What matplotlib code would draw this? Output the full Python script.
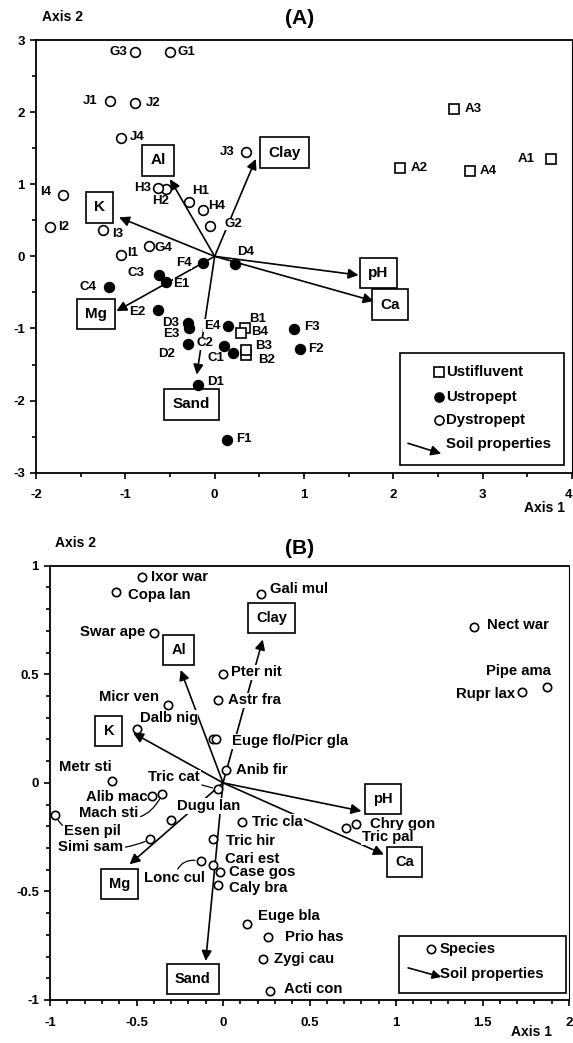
import numpy as np
import matplotlib
matplotlib.use("Agg")
import matplotlib.pyplot as plt
from matplotlib.ticker import MultipleLocator, FuncFormatter
from matplotlib.patches import Rectangle

plt.rcParams['font.family'] = ['Liberation Sans', 'DejaVu Sans']
plt.rcParams['font.weight'] = 'bold'

# ---- panel A : soil samples ----
ustifluvent_ids = ["A1", "A2", "A3", "A4", "B1", "B2", "B3", "B4"]
ustifluvent_ax1 = [3.77, 2.07, 2.68, 2.86, 0.34, 0.35, 0.35, 0.30]
ustifluvent_ax2 = [1.35, 1.22, 2.04, 1.18, -1.00, -1.37, -1.30, -1.06]

ustropept_ids = ["C1", "C2", "C3", "C4", "D1", "D2", "D3", "D4",
                 "E1", "E2", "E3", "E4", "F1", "F2", "F3", "F4"]
ustropept_ax1 = [0.21, 0.10, -0.62, -1.18, -0.19, -0.30, -0.30, 0.23,
                 -0.54, -0.63, -0.29, 0.15, 0.14, 0.96, 0.89, -0.13]
ustropept_ax2 = [-1.34, -1.25, -0.26, -0.42, -1.78, -1.21, -0.92, -0.10,
                 -0.36, -0.74, -1.00, -0.96, -2.55, -1.28, -1.01, -0.09]

dystropept_ids = ["G1", "G2", "G3", "G4", "H1", "H2", "H3", "H4",
                  "I1", "I2", "I3", "I4", "J1", "J2", "J3", "J4"]
dystropept_ax1 = [-0.50, -0.05, -0.89, -0.73, -0.29, -0.54, -0.63, -0.13,
                  -1.05, -1.84, -1.25, -1.70, -1.17, -0.89, 0.35, -1.05]
dystropept_ax2 = [2.83, 0.42, 2.83, 0.15, 0.76, 0.93, 0.95, 0.64,
                  0.02, 0.41, 0.37, 0.85, 2.15, 2.12, 1.45, 1.64]

soil_props = ["Al", "Clay", "K", "Mg", "Sand", "pH", "Ca"]
soilA_ax1 = [-0.50, 0.46, -1.07, -1.10, -0.20, 1.61, 1.78]
soilA_ax2 = [1.07, 1.35, 0.54, -0.76, -1.64, -0.26, -0.62]

# ---- panel B : species ----
species = ["Ixor war", "Copa lan", "Swar ape", "Gali mul", "Pter nit", "Astr fra",
           "Micr ven", "Dalb nig", "Euge flo", "Picr gla", "Anib fir", "Metr sti",
           "Alib mac", "Mach sti", "Esen pil", "Tric cat", "Dugu lan", "Simi sam",
           "Tric cla", "Tric hir", "Lonc cul", "Cari est", "Case gos", "Caly bra",
           "Euge bla", "Prio has", "Zygi cau", "Acti con", "Chry gon", "Tric pal",
           "Nect war", "Rupr lax", "Pipe ama"]
species_ax1 = [-0.47, -0.62, -0.40, 0.22, 0.00, -0.03,
               -0.32, -0.50, -0.06, -0.04, 0.02, -0.64,
               -0.41, -0.35, -0.97, -0.03, -0.30, -0.42,
               0.11, -0.06, -0.13, -0.06, -0.02, -0.03,
               0.14, 0.26, 0.23, 0.27, 0.77, 0.71,
               1.45, 1.73, 1.87]
species_ax2 = [0.95, 0.88, 0.69, 0.87, 0.50, 0.38,
               0.36, 0.25, 0.20, 0.20, 0.06, 0.01,
               -0.06, -0.05, -0.15, -0.03, -0.17, -0.26,
               -0.18, -0.26, -0.36, -0.38, -0.41, -0.47,
               -0.65, -0.71, -0.81, -0.96, -0.19, -0.21,
               0.72, 0.42, 0.44]

soilB_ax1 = [-0.245, 0.23, -0.52, -0.54, -0.10, 0.80, 0.93]
soilB_ax2 = [0.52, 0.66, 0.23, -0.375, -0.82, -0.13, -0.33]

# label placement (pixels offset, alignment)
offA = {
    "A1": (-17, 0, 'right'), "A2": (11, 0, 'left'), "A3": (11, 0, 'left'), "A4": (10, 0, 'left'),
    "B1": (4, 9, 'left'), "B2": (12, -5, 'left'), "B3": (9, 4, 'left'), "B4": (10, 1, 'left'),
    "C1": (-9, -5, 'right'), "C2": (-10, 3, 'right'), "C3": (-15, 2, 'right'), "C4": (-13, 0, 'right'),
    "D1": (9, 3, 'left'), "D2": (-13, -10, 'right'), "D3": (-9, 0, 'right'), "D4": (2, 12, 'left'),
    "E1": (7, -2, 'left'), "E2": (-13, -2, 'right'), "E3": (-9, -6, 'right'), "E4": (-8, 0, 'right'),
    "F1": (9, 1, 'left'), "F2": (8, 0, 'left'), "F3": (10, 2, 'left'), "F4": (-11, 0, 'right'),
    "G1": (8, 0, 'left'), "G2": (14, 2, 'left'), "G3": (-8, 0, 'right'), "G4": (5, -2, 'left'),
    "H1": (3, 11, 'left'), "H2": (-6, -12, 'center'), "H3": (-7, 0, 'right'), "H4": (5, 4, 'left'),
    "I1": (6, 2, 'left'), "I2": (8, 0, 'left'), "I3": (9, -4, 'left'), "I4": (-12, 3, 'right'),
    "J1": (-13, 0, 'right'), "J2": (11, 0, 'left'), "J3": (-11, 0, 'right'), "J4": (9, 1, 'left'),
}
boxA = {"Al": (-0.63, 1.33), "Clay": (0.78, 1.44), "K": (-1.29, 0.68), "Mg": (-1.33, -0.80),
        "Sand": (-0.26, -2.05), "pH": (1.83, -0.23), "Ca": (1.96, -0.67)}

offB = {
    "Ixor war": (9, 0, 'left'), "Copa lan": (12, -3, 'left'), "Swar ape": (-9, 1, 'right'),
    "Gali mul": (9, 5, 'left'), "Pter nit": (8, 2, 'left'), "Astr fra": (10, 0, 'left'),
    "Micr ven": (-9, 8, 'right'), "Dalb nig": (3, 11, 'left'), "Euge flo": None,
    "Picr gla": (16, -2, 'left'), "Anib fir": (10, 0, 'left'), "Metr sti": (-27, 14, 'center'),
    "Alib mac": (-5, -1, 'right'), "Mach sti": (-24, -19, 'right'), "Esen pil": (9, -16, 'left'),
    "Tric cat": (-18, 12, 'right'), "Dugu lan": (6, 14, 'left'), "Simi sam": (-27, -8, 'right'),
    "Tric cla": (10, 0, 'left'), "Tric hir": (13, -2, 'left'), "Lonc cul": (-26, -17, 'center'),
    "Cari est": (12, 6, 'left'), "Case gos": (9, 0, 'left'), "Caly bra": (11, -3, 'left'),
    "Euge bla": (11, 8, 'left'), "Prio has": (17, 0, 'left'), "Zygi cau": (11, 0, 'left'),
    "Acti con": (14, 2, 'left'), "Chry gon": (14, 0, 'left'), "Tric pal": (16, -9, 'left'),
    "Nect war": (13, 2, 'left'), "Rupr lax": (-7, -2, 'right'), "Pipe ama": (-28, 16, 'center'),
}
leaderB = {"Mach sti": 0.5, "Esen pil": -0.4, "Simi sam": 0.15, "Tric cat": 0.0, "Lonc cul": -0.5}
textB = {"Picr gla": "Euge flo/Picr gla"}
boxB = {"Al": (-0.256, 0.61), "Clay": (0.28, 0.76), "K": (-0.66, 0.24), "Mg": (-0.60, -0.465),
        "Sand": (-0.175, -0.905), "pH": (0.925, -0.075), "Ca": (1.05, -0.365)}

TICK_FS = 9.5
AXIS_FS = 10


def fmt(v, pos):
    return '%g' % v


def style_axes(ax, major, minor):
    ax.xaxis.set_major_locator(MultipleLocator(major[0]))
    ax.xaxis.set_minor_locator(MultipleLocator(minor[0]))
    ax.yaxis.set_major_locator(MultipleLocator(major[1]))
    ax.yaxis.set_minor_locator(MultipleLocator(minor[1]))
    ax.xaxis.set_major_formatter(FuncFormatter(fmt))
    ax.yaxis.set_major_formatter(FuncFormatter(fmt))
    ax.tick_params(which='both', direction='out', width=1.2, labelsize=TICK_FS)
    ax.tick_params(which='major', length=4)
    ax.tick_params(which='minor', length=3)
    ax.tick_params(axis='x', pad=8)
    ax.tick_params(axis='y', pad=4)
    for s in ['left', 'bottom', 'top']:
        ax.spines[s].set_linewidth(1.3)
    ax.spines['right'].set_linewidth(0.8)
    for lab in ax.get_xticklabels() + ax.get_yticklabels():
        lab.set_fontweight('bold')


def draw_vectors(ax, vx, vy, boxes, fs):
    for name, x, y in zip(soil_props, vx, vy):
        ax.annotate('', xy=(x, y), xytext=(0, 0), zorder=2,
                    arrowprops=dict(arrowstyle='-|>', color='black', lw=1.2,
                                    mutation_scale=15, shrinkA=0, shrinkB=0))
        bx, by = boxes[name]
        ax.text(bx, by, name, ha='center', va='center', fontsize=fs, fontweight='bold', zorder=4,
                bbox=dict(boxstyle='square,pad=0.55', fc='white', ec='black', lw=1.2))


fig = plt.figure(figsize=(5.73, 10.43), dpi=100)
W, H = 573.0, 1043.0

# ---------------- panel A ----------------
axA = fig.add_axes([36 / W, 1 - 472.7 / H, 536 / W, 432.7 / H])
axA.set_xlim(-2, 4)
axA.set_ylim(-3, 3)
style_axes(axA, (1, 1), (0.5, 0.5))
fig.canvas.draw()
for lab in axA.get_xticklabels():
    if lab.get_text() == '4':
        lab.set_horizontalalignment('right')

draw_vectors(axA, soilA_ax1, soilA_ax2, boxA, 11)

groups = [
    (ustifluvent_ids, ustifluvent_ax1, ustifluvent_ax2, dict(marker='s', ms=6.5, mfc='white')),
    (ustropept_ids, ustropept_ax1, ustropept_ax2, dict(marker='o', ms=7, mfc='black')),
    (dystropept_ids, dystropept_ax1, dystropept_ax2, dict(marker='o', ms=7, mfc='white')),
]
for ids, xs, ys, st in groups:
    axA.plot(xs, ys, ls='none', mec='black', mew=1.2, zorder=5, **st)
    for name, x, y in zip(ids, xs, ys):
        dx, dy, ha = offA[name]
        axA.annotate(name, (x, y), xytext=(dx, dy), textcoords='offset pixels',
                     ha=ha, va='center', fontsize=9.5, fontweight='bold', zorder=3,
                     bbox=dict(boxstyle='square,pad=0.02', fc='white', ec='none'))

# legend A
axA.add_patch(Rectangle((0.680, 0.018), 0.305, 0.258, transform=axA.transAxes,
                        fc='white', ec='black', lw=1.2, zorder=6))
legA = [("Ustifluvent", 's', 'white', 0.233), ("Ustropept", 'o', 'black', 0.176),
        ("Dystropept", 'o', 'white', 0.122)]
for lab, mk, fc, yy in legA:
    axA.plot([0.751], [yy], marker=mk, ms=6.5, mfc=fc, mec='black', mew=1.2,
             transform=axA.transAxes, zorder=7, clip_on=False)
    axA.text(0.765, yy, lab, transform=axA.transAxes, ha='left', va='center',
             fontsize=10.8, fontweight='bold', zorder=7)
axA.annotate('', xy=(0.756, 0.044), xytext=(0.694, 0.068), xycoords='axes fraction',
             zorder=7, arrowprops=dict(arrowstyle='-|>', color='black', lw=1.2,
                                       mutation_scale=15, shrinkA=0, shrinkB=0))
axA.text(0.765, 0.066, "Soil properties", transform=axA.transAxes, ha='left', va='center',
         fontsize=10.8, fontweight='bold', zorder=7)

fig.text(300 / W, 1 - 18 / H, "(A)", ha='center', va='center', fontsize=15, fontweight='bold')
fig.text(42 / W, 1 - 17 / H, "Axis 2", ha='left', va='center', fontsize=AXIS_FS, fontweight='bold')
fig.text(565 / W, 1 - 508 / H, "Axis 1", ha='right', va='center', fontsize=AXIS_FS, fontweight='bold')

# ---------------- panel B ----------------
axB = fig.add_axes([50 / W, 1 - 1000 / H, 519 / W, 434.3 / H])
axB.set_xlim(-1, 2)
axB.set_ylim(-1, 1)
style_axes(axB, (0.5, 0.5), (0.1, 0.1))

draw_vectors(axB, soilB_ax1, soilB_ax2, boxB, 10.5)

axB.plot(species_ax1, species_ax2, ls='none', marker='o', ms=6, mfc='white',
         mec='black', mew=1.2, zorder=5)
for name, x, y in zip(species, species_ax1, species_ax2):
    if offB[name] is None:
        continue
    dx, dy, ha = offB[name]
    kw = {}
    if name in leaderB:
        kw['arrowprops'] = dict(arrowstyle='-', color='black', lw=0.9, shrinkA=1, shrinkB=4,
                                connectionstyle='arc3,rad=%g' % leaderB[name])
    axB.annotate(textB.get(name, name), (x, y), xytext=(dx, dy), textcoords='offset pixels',
                 ha=ha, va='center', fontsize=10.7, fontweight='bold', zorder=3,
                 bbox=dict(boxstyle='square,pad=0.05', fc='white', ec='none'), **kw)

# legend B
axB.add_patch(Rectangle((0.673, 0.017), 0.322, 0.130, transform=axB.transAxes,
                        fc='white', ec='black', lw=1.2, zorder=6))
axB.plot([0.734], [0.117], marker='o', ms=6, mfc='white', mec='black', mew=1.2,
         transform=axB.transAxes, zorder=7, clip_on=False)
axB.text(0.751, 0.117, "Species", transform=axB.transAxes, ha='left', va='center',
         fontsize=10.7, fontweight='bold', zorder=7)
axB.annotate('', xy=(0.754, 0.053), xytext=(0.690, 0.074), xycoords='axes fraction',
             zorder=7, arrowprops=dict(arrowstyle='-|>', color='black', lw=1.2,
                                       mutation_scale=13, shrinkA=0, shrinkB=0))
axB.text(0.751, 0.060, "Soil properties", transform=axB.transAxes, ha='left', va='center',
         fontsize=10.7, fontweight='bold', zorder=7)

fig.text(300 / W, 1 - 548 / H, "(B)", ha='center', va='center', fontsize=15, fontweight='bold')
fig.text(55 / W, 1 - 543 / H, "Axis 2", ha='left', va='center', fontsize=AXIS_FS, fontweight='bold')
fig.text(552 / W, 1 - 1032 / H, "Axis 1", ha='right', va='center', fontsize=AXIS_FS, fontweight='bold')

fig.savefig("out.png", dpi=100)
